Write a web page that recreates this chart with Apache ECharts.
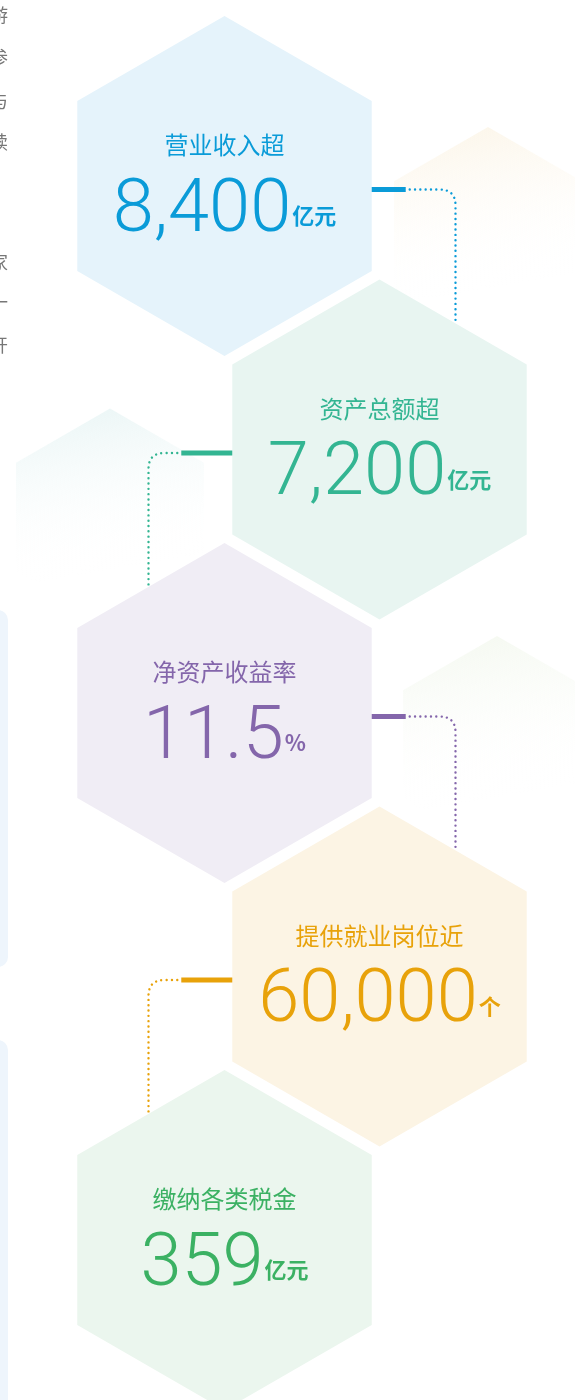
<!DOCTYPE html>
<html lang="zh-CN">
<head>
<meta charset="UTF-8">
<title>hex stats</title>
<script src="https://cdn.jsdelivr.net/npm/echarts@6/dist/echarts.min.js"></script>
<style>
    html, body { margin: 0; padding: 0; background: #fff; }
    #main { width: 575px; height: 1400px; }
</style>
</head>
<body>
<div id="main"></div>
<script>
var titles = ['营业收入超', '资产总额超', '净资产收益率', '提供就业岗位近', '缴纳各类税金'];
var values = ['8,400', '7,200', '11.5', '60,000', '359'];
var units = ['亿元', '亿元', '%', '个', '亿元'];

var textColors = ['#0a9bd8', '#33b592', '#8466ab', '#e8a20a', '#3bb163'];
var fillColors = ['#e5f3fb', '#e8f5f1', '#f0edf5', '#fcf4e4', '#ebf6ee'];

// layout in px
var W = 575, H = 1400;
var colX0 = 224.5, colStep = 155;
var rowY0 = 186, rowStep = 263.5;
var R = 170;
var HW = R * Math.sqrt(3) / 2;

var NUM_FONT = '300 74px Roboto';
var UNIT_FONT = 'bold 22px "Noto Sans CJK SC"';
var TITLE_FONT = '24px "Noto Sans CJK SC"';

var measureCtx = document.createElement('canvas').getContext('2d');
function textWidth(str, font) {
    measureCtx.font = font;
    return measureCtx.measureText(str).width;
}

function hexPoints(cx, cy, r) {
    var hw = r * Math.sqrt(3) / 2;
    return [
        [cx, cy - r], [cx + hw, cy - r / 2], [cx + hw, cy + r / 2],
        [cx, cy + r], [cx - hw, cy + r / 2], [cx - hw, cy - r / 2]
    ];
}

function renderItem(params, api) {
    var i = params.dataIndex;
    var c = api.coord([api.value(0), api.value(1)]);
    var cx = c[0], cy = c[1];
    var color = textColors[i];
    var children = [];

    children.push({
        type: 'polygon',
        shape: { points: hexPoints(cx, cy, R) },
        style: { fill: fillColors[i] }
    });

    children.push({
        type: 'text',
        style: {
            text: titles[i], x: cx, y: cy - 41,
            fill: color, font: TITLE_FONT,
            align: 'center', verticalAlign: 'middle'
        }
    });

    var nw = textWidth(values[i], NUM_FONT);
    var uw = textWidth(units[i], UNIT_FONT);
    var gap = 1;
    var sx = cx - (nw + gap + uw) / 2;
    children.push({
        type: 'text',
        style: {
            text: values[i], x: sx, y: cy + 26,
            fill: color, font: NUM_FONT,
            align: 'left', verticalAlign: 'middle'
        }
    });
    children.push({
        type: 'text',
        style: {
            text: units[i], x: sx + nw + gap, y: cy + 30,
            fill: color, font: UNIT_FONT,
            align: 'left', verticalAlign: 'middle'
        }
    });

    // connector to the next hexagon
    if (i < titles.length - 1) {
        var n = api.coord([(i + 1) % 2, i + 1]);
        var dir = i % 2 === 0 ? 1 : -1;
        var ex = cx + dir * HW;
        var y = cy + 3.5;
        var len = dir > 0 ? 34 : 51;
        var vx = n[0] + dir * 76;
        var yEnd = n[1] - R + (76 / HW) * R / 2 - 1;
        var r = 16;
        children.push({
            type: 'line',
            shape: { x1: ex, y1: y, x2: ex + dir * len, y2: y },
            style: { stroke: color, lineWidth: 5 }
        });
        var p = 'M' + (ex + dir * (len + 4)) + ' ' + y +
            ' L' + (vx - dir * r) + ' ' + y +
            ' Q' + vx + ' ' + y + ' ' + vx + ' ' + (y + r) +
            ' L' + vx + ' ' + yEnd;
        children.push({
            type: 'path',
            shape: { pathData: p },
            style: {
                fill: null, stroke: color, lineWidth: 2.4,
                lineDash: [0.01, 5.3], lineCap: 'round'
            }
        });
    }

    return { type: 'group', children: children };
}

// faint background hexagons + clipped side content
function fadeHex(cx, cy, top) {
    return {
        type: 'polygon',
        z: 0,
        shape: { points: hexPoints(cx, cy, 108.5) },
        style: {
            fill: {
                type: 'linear', x: 0.3, y: 0, x2: 0.5, y2: 1,
                colorStops: [
                    { offset: 0, color: top },
                    { offset: 0.75, color: 'rgba(255,255,255,0)' }
                ]
            }
        }
    };
}

var sideChars = ['游', '参', '与', '续', '家', '一', '开'];
var sideY = [15, 57, 101, 142, 262, 302, 345];
var graphics = [
    fadeHex(488, 235.5, '#fcf6ea'),
    fadeHex(110, 517, '#ebf6f6'),
    fadeHex(497, 744.5, '#f5f9f1'),
    {
        type: 'rect', z: 0,
        shape: { x: -20, y: 610, width: 28, height: 357, r: 10 },
        style: { fill: '#eef5fc' }
    },
    {
        type: 'rect', z: 0,
        shape: { x: -20, y: 1040, width: 28, height: 400, r: 10 },
        style: { fill: '#eef5fc' }
    }
];
sideChars.forEach(function (ch, k) {
    graphics.push({
        type: 'text', z: 0,
        style: {
            text: ch, x: -10, y: sideY[k],
            fill: '#777', font: '18px "Noto Sans CJK SC"',
            align: 'left', verticalAlign: 'middle'
        }
    });
});

var chart = echarts.init(document.getElementById('main'));
chart.setOption({
    animation: false,
    grid: { left: 0, right: 0, top: 0, bottom: 0 },
    xAxis: {
        type: 'value', show: false,
        min: -colX0 / colStep, max: (W - colX0) / colStep
    },
    yAxis: {
        type: 'value', show: false, inverse: true,
        min: -rowY0 / rowStep, max: (H - rowY0) / rowStep
    },
    graphic: graphics,
    series: [{
        type: 'custom',
        renderItem: renderItem,
        clip: false,
        data: titles.map(function (t, i) { return [i % 2, i]; })
    }]
});
</script>
</body>
</html>
